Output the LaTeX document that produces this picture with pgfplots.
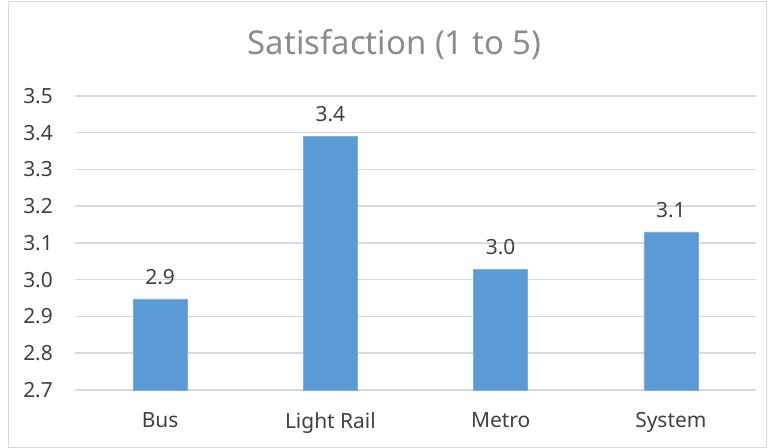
\documentclass[border=0pt]{standalone}
\usepackage{pgfplots}
\pgfplotsset{compat=1.18}
\usepackage{fontspec}
\setmainfont{Noto Sans}
\definecolor{barblue}{HTML}{5B9BD5}
\definecolor{gridgray}{HTML}{D9D9D9}
\definecolor{txt}{HTML}{404040}
\definecolor{titlegray}{HTML}{8C8C8C}
\begin{document}
\begin{tikzpicture}[x=1bp,y=1bp]
\useasboundingbox (0,0) rectangle (768,448);
\draw[gridgray, line width=1bp] (8.5,0.5) rectangle (766.5,446.5);
\node[titlegray, font=\fontsize{33}{38}\selectfont] at (394.5,403) {Satisfaction (1 to 5)};
\begin{axis}[
  at={(75bp,58bp)}, anchor=south west,
  scale only axis, width=681bp, height=294bp,
  ymin=2.7, ymax=3.5, ytick={2.7,2.8,...,3.5},
  xmin=-0.5, xmax=3.5,
  xtick={0,1,2,3}, xticklabels={Bus,Light Rail,Metro,System},
  axis line style={draw=none},
  major tick length=0pt,
  ymajorgrids, grid style={gridgray, line width=1.5bp},
  y tick label style={/pgf/number format/.cd, fixed, fixed zerofill, precision=1, /tikz/.cd},
  /pgf/number format/assume math mode=true,
  tick label style={txt, font=\fontsize{21}{24}\selectfont},
  yticklabel style={anchor=east, inner sep=0pt, xshift=-22bp},
  xticklabel style={yshift=-19bp},
  nodes near coords={\pgfplotspointmeta},
  point meta=explicit symbolic,
  every node near coord/.append style={txt, font=\fontsize{21}{24}\selectfont, yshift=11bp},
  clip=false,
]
\addplot[ybar, bar width=54bp, fill=barblue, draw=barblue!80!white] coordinates {
  (0,2.948) [2.9]
  (1,3.391) [3.4]
  (2,3.029) [3.0]
  (3,3.130) [3.1]
};
\end{axis}
\end{tikzpicture}
\end{document}
